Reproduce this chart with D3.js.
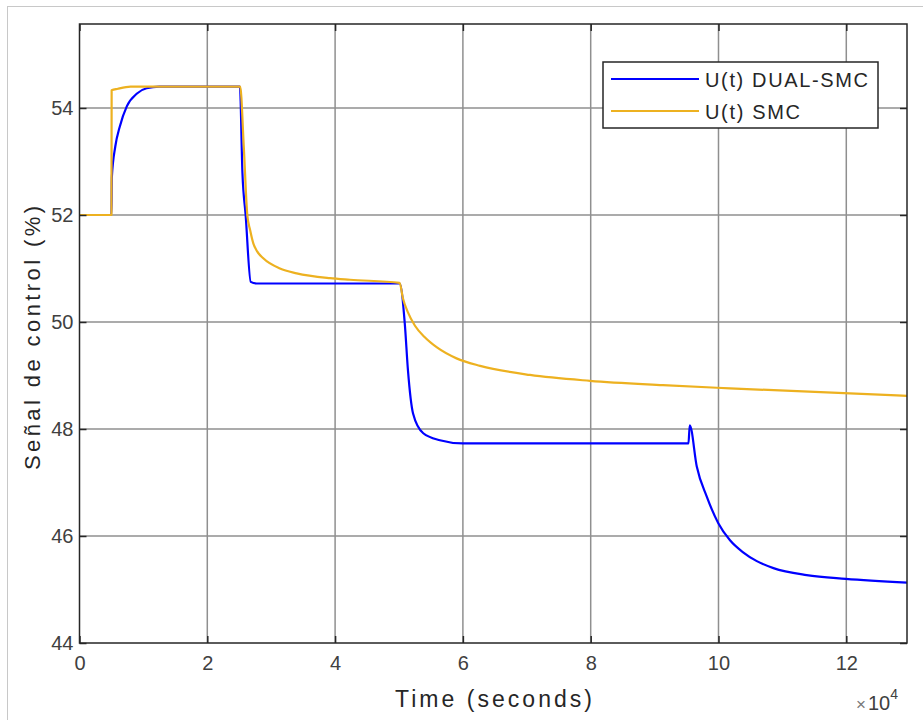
<!DOCTYPE html>
<html>
<head>
<meta charset="utf-8">
<script src="https://cdn.jsdelivr.net/npm/d3@7"></script>
<style>
  body { margin: 0; background: #fff; }
  svg { display: block; font-family: Arial, "Liberation Sans", sans-serif; }
  .grid line { stroke: #8f8f8f; stroke-width: 1.5; }
</style>
</head>
<body>
<div id="chart"></div>
<script>
// time (s) / control signal (%)
var dualTime = [0, 5000, 5060, 5600, 6300, 7400, 9000, 10500, 12500, 25100, 25500, 26000, 26800, 27700,
                50100, 50900, 51400, 52200, 53800, 56400, 60000, 95300, 95500, 96600, 98150, 99970,
                101800, 103800, 106000, 108600, 113800, 119900, 129500];
var dualU    = [52, 52, 52.7, 53.28, 53.65, 54.03, 54.27, 54.37, 54.40, 54.40, 52.78, 52.0, 50.75, 50.72,
                50.72, 49.98, 49.10, 48.29, 47.92, 47.79, 47.73, 47.73, 48.07, 47.3, 46.74, 46.24,
                45.92, 45.70, 45.53, 45.40, 45.27, 45.20, 45.13];
var smcTime  = [0, 5000, 5030, 6000, 8000, 25150, 25700, 26260, 26700, 27200, 27800, 28760, 31370, 33990,
                39200, 42330, 50100, 50600, 51400, 52500, 54000, 56000, 59000, 62700, 70500, 79890,
                91300, 101800, 129500];
var smcU     = [52, 52, 54.33, 54.36, 54.40, 54.40, 53.3, 52.0, 51.72, 51.47, 51.32, 51.19, 51.0, 50.91,
                50.82, 50.79, 50.73, 50.45, 50.18, 49.93, 49.72, 49.52, 49.32, 49.18, 49.01, 48.90,
                48.82, 48.76, 48.62];
var xTicks = [0, 20000, 40000, 60000, 80000, 100000, 120000];
var yTicks = [44, 46, 48, 50, 52, 54];
var seriesNames = ['U(t) DUAL-SMC', 'U(t) SMC'];
var seriesColors = ['#0000ff', '#edb120'];

(function () {
var W = 923, H = 720,
    pLeft = 79.5, pRight = 907, pTop = 24, pBottom = 643;

var x = d3.scaleLinear().domain([0, 129500]).range([pLeft, pRight]),
    y = d3.scaleLinear().domain([44, 55.57]).range([pBottom, pTop]);

var svg = d3.select('#chart').append('svg')
    .attr('width', W)
    .attr('height', H);

// figure frame
svg.append('rect')
    .attr('x', 7.5).attr('y', 6.5)
    .attr('width', W).attr('height', H)
    .attr('fill', 'none').attr('stroke', '#c8c8c8');

// grid
var grid = svg.append('g').attr('class', 'grid');
grid.selectAll('.gx').data(xTicks.slice(1)).enter().append('line')
    .attr('x1', function (d) { return x(d); }).attr('x2', function (d) { return x(d); })
    .attr('y1', pTop).attr('y2', pBottom);
grid.selectAll('.gy').data(yTicks.slice(1)).enter().append('line')
    .attr('x1', pLeft).attr('x2', pRight)
    .attr('y1', function (d) { return y(d); }).attr('y2', function (d) { return y(d); });

// lines
var line = d3.line()
    .x(function (d) { return x(d[0]); })
    .y(function (d) { return y(d[1]); })
    .curve(d3.curveMonotoneX);

var plot = svg.append('g');
plot.append('path')
    .attr('d', line(d3.zip(dualTime, dualU)))
    .attr('fill', 'none').attr('stroke', seriesColors[0]).attr('stroke-width', 2.2)
    .attr('stroke-linejoin', 'round');
plot.append('path')
    .attr('d', line(d3.zip(smcTime, smcU)))
    .attr('fill', 'none').attr('stroke', seriesColors[1]).attr('stroke-width', 2.2)
    .attr('stroke-linejoin', 'round');

// axes (inward ticks on all four sides)
function styleAxis(g) {
    g.select('.domain').remove();
    g.selectAll('.tick line').attr('stroke', '#262626').attr('stroke-width', 1.5);
    g.selectAll('.tick text').attr('fill', '#404040').style('font-size', '20px')
        .style('font-family', 'Arial, "Liberation Sans", sans-serif');
}
svg.append('g').attr('transform', 'translate(0,' + pBottom + ')')
    .call(d3.axisBottom(x).tickValues(xTicks).tickSize(-7).tickPadding(13)
        .tickFormat(function (d) { return d / 10000; }))
    .call(styleAxis);
svg.append('g').attr('transform', 'translate(0,' + pTop + ')')
    .call(d3.axisTop(x).tickValues(xTicks).tickSize(-7).tickFormat(''))
    .call(styleAxis);
svg.append('g').attr('transform', 'translate(' + pLeft + ',0)')
    .call(d3.axisLeft(y).tickValues(yTicks).tickSize(-7).tickPadding(6))
    .call(styleAxis);
svg.append('g').attr('transform', 'translate(' + pRight + ',0)')
    .call(d3.axisRight(y).tickValues(yTicks).tickSize(-7).tickFormat(''))
    .call(styleAxis);

// box
svg.append('rect')
    .attr('x', pLeft).attr('y', pTop)
    .attr('width', pRight - pLeft).attr('height', pBottom - pTop)
    .attr('fill', 'none').attr('stroke', '#262626').attr('stroke-width', 1.5);

// labels
svg.append('text')
    .attr('x', 395).attr('y', 707)
    .attr('textLength', 197).attr('lengthAdjust', 'spacing')
    .attr('fill', '#262626').style('font-size', '23px')
    .text('Time (seconds)');

svg.append('text')
    .attr('transform', 'translate(40,470) rotate(-90)')
    .attr('textLength', 264).attr('lengthAdjust', 'spacing')
    .attr('fill', '#262626').style('font-size', '22px')
    .text('Señal de control (%)');

var expo = svg.append('text')
    .attr('x', 856).attr('y', 710)
    .attr('fill', '#404040').style('font-size', '20px');
expo.append('tspan').text('\u00d7').style('font-size', '17px').attr('fill', '#777');
expo.append('tspan').text('10').attr('dx', 2);
expo.append('tspan').text('4').attr('dy', -11).style('font-size', '14px');

// legend
var legend = svg.append('g');
legend.append('rect')
    .attr('x', 603).attr('y', 62).attr('width', 275).attr('height', 66)
    .attr('fill', '#fff').attr('stroke', '#262626').attr('stroke-width', 1.5);
var legendLengths = [163, 95];
seriesNames.forEach(function (name, i) {
    var ly = 79 + i * 32;
    legend.append('line')
        .attr('x1', 611).attr('x2', 699).attr('y1', ly).attr('y2', ly)
        .attr('stroke', seriesColors[i]).attr('stroke-width', 2.2);
    legend.append('text')
        .attr('x', 705).attr('y', ly + 8)
        .attr('textLength', legendLengths[i]).attr('lengthAdjust', 'spacing')
        .attr('fill', '#262626').style('font-size', '20px')
        .text(name);
});
})();
</script>
</body>
</html>
